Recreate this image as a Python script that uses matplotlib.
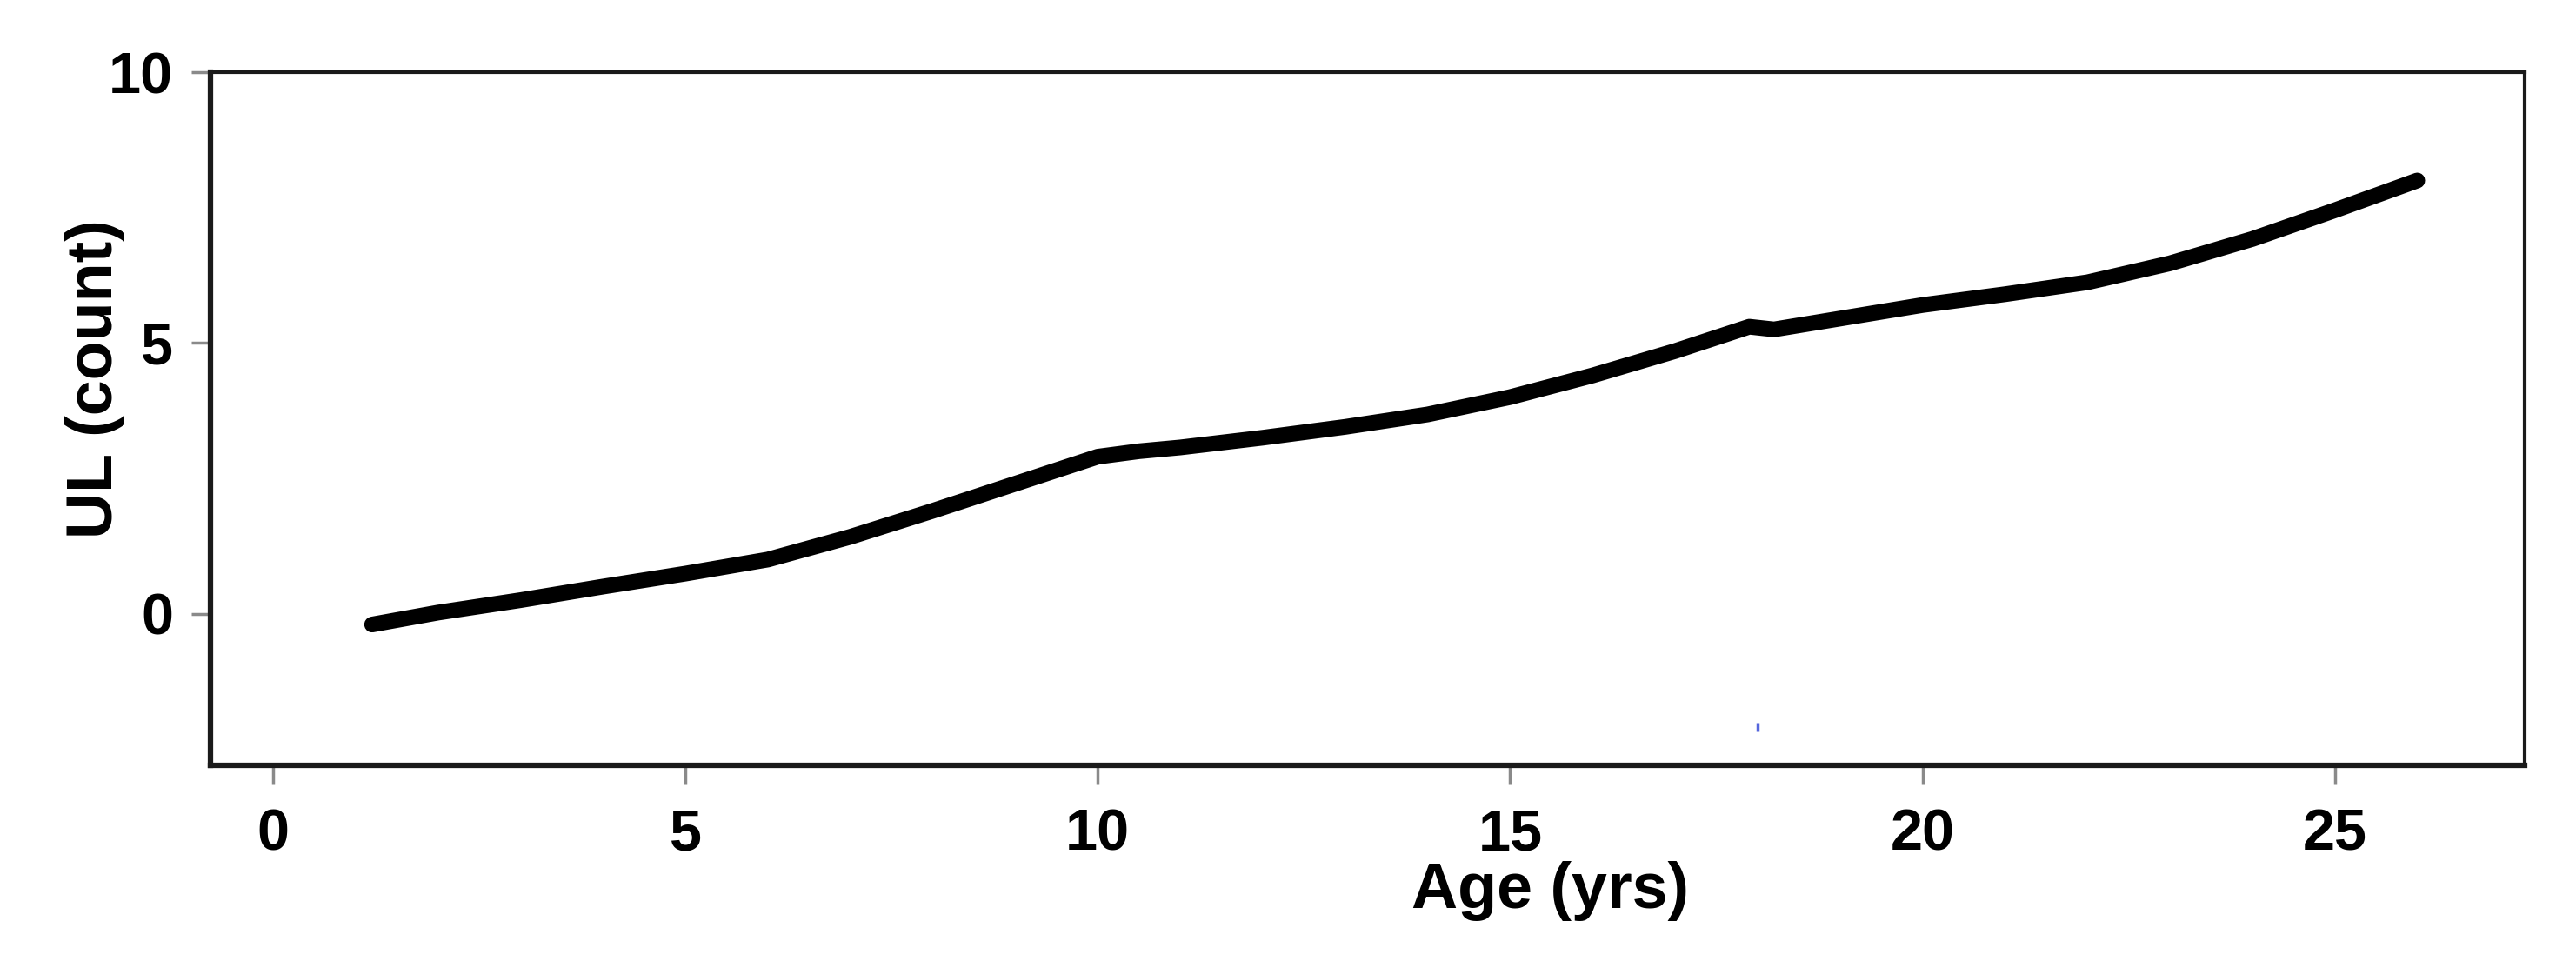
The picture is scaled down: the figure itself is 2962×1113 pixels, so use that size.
import numpy as np
import matplotlib
matplotlib.use("Agg")
import matplotlib.pyplot as plt

# values
age = [1.2, 2.0, 3.0, 4.0, 5.0, 6.0, 7.0, 8.0, 9.0, 10.0, 10.5, 11.0, 12.0, 13.0,
       14.0, 15.0, 16.0, 17.0, 17.9, 18.2, 19.0, 20.0, 21.0, 22.0, 23.0, 24.0,
       25.0, 26.0]
ul = [-0.2, 0.02, 0.25, 0.5, 0.74, 1.0, 1.42, 1.9, 2.4, 2.9, 3.0, 3.07, 3.25, 3.45,
      3.68, 4.0, 4.4, 4.85, 5.3, 5.25, 5.45, 5.7, 5.9, 6.12, 6.47, 6.92, 7.45, 8.0]

stray_x = [18.0]
stray_y = [-2.1]

xticks = [0, 5, 10, 15, 20, 25]
yticks = [0, 5, 10]

plt.rcParams['font.family'] = ['Liberation Sans', 'DejaVu Sans']

fig = plt.figure(figsize=(29.62, 11.13), dpi=100)
ax = fig.add_axes([0.0817, 0.2094, 0.8983, 0.716])

ax.plot(age, ul, color='black', linewidth=13, solid_capstyle='round',
        solid_joinstyle='round')
ax.plot(stray_x, stray_y, linestyle='none', marker='|', markersize=7,
        markeredgewidth=2.5, color='#5566dd')

ax.set_xlim(-0.76, 27.3)
ax.set_ylim(-2.8, 10)
ax.set_xticks(xticks)
ax.set_yticks(yticks)

# stile
ax.tick_params(axis='both', length=16, width=2.5, color='#8a8a8a',
               labelsize=48)
ax.tick_params(axis='x', pad=20)
ax.tick_params(axis='y', pad=15)
for lab in ax.get_xticklabels() + ax.get_yticklabels():
    lab.set_fontweight('bold')
ax.spines['left'].set_linewidth(4.5)
ax.spines['bottom'].set_linewidth(4.5)
ax.spines['top'].set_linewidth(3)
ax.spines['right'].set_linewidth(3)
for s in ax.spines.values():
    s.set_color('#1a1a1a')

ax.set_xlabel("Age (yrs)", fontsize=53, fontweight='bold')
ax.xaxis.set_label_coords(0.579, -0.138)
ax.set_ylabel("UL (count)", fontsize=53, fontweight='bold')
ax.yaxis.set_label_coords(-0.037, 0.558)

fig.savefig("out.png", dpi=100, facecolor='white')
